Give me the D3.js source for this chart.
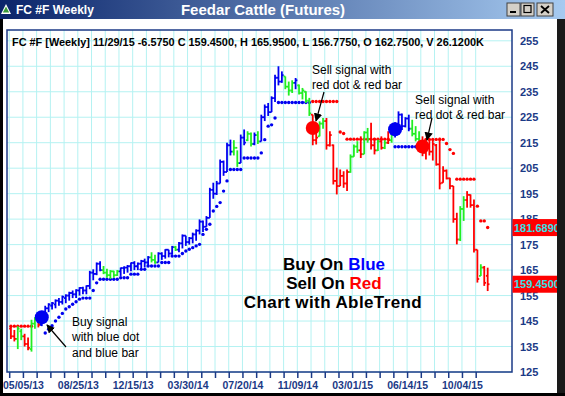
<!DOCTYPE html>
<html><head><meta charset="utf-8">
<script src="https://cdn.jsdelivr.net/npm/d3@7"></script>
<style>
html,body{margin:0;padding:0;background:#fff;overflow:hidden;}
svg{display:block;font-family:Arial,"Liberation Sans",sans-serif;}
</style></head><body>
<svg id="chart" width="565" height="396"></svg>
<script>
// Weekly OHLC bars, Feeder Cattle futures (one entry per bar)
const highs = [143,141.5,143,142,140,138.5,145.5,146.5,146,148,
151,152,152.5,153.5,154,155,155.5,156.5,157,157.5,
158.3,158.5,159,164.7,165.3,168,168.5,166.6,165.5,165,
164.7,165,166,166.5,167,168,168.5,168,169,169.5,
170.5,172,171,172,172,173.2,173,174.5,174.5,176,
179,178.5,178,179.7,181,184.9,184.5,186.2,197.3,199.3,
200,208.4,208,215,216.2,216,212,218.2,220.2,219.5,
219,219,219.5,226,230,230.6,233.2,241.7,245,243,
241,239,239.5,240.4,237.8,236.5,235.2,232.6,226,219.5,
223.4,224.7,224.7,219.5,214.3,205.2,204.5,203.8,204.5,210.4,
214.3,215.6,217.5,219.5,220.8,222.8,216.9,216.2,217.5,216,
219.5,220.5,223,227.3,226.5,225,226,224,221.5,219.5,
217.5,215.6,216.5,216,214.5,217,205.8,204.5,201.2,198,
187.5,190.1,194,196,194.7,192.7,173,167.3,166.6,165.95];
const lows = [138,137,134,137.5,135,133.5,133,142,142.5,143,
146,148.5,149.5,150,151,151.5,152,153,154,154,
155,155.5,155.5,157.5,161,163,164.5,163.4,162,161.5,
162,162.7,162.7,163.5,164,164.5,165,165,165.5,166,
166.5,168,167.5,168,169,169.5,170,171,172.5,172,
173.5,174.5,175,175.5,176.5,179,180,182,185.5,193,
194.5,199,202,203.5,210,210,205.5,207,214,215.6,
213.5,214,214.5,215.5,223.5,225.5,227,231,237.5,238.5,
236,233.5,234.5,236,233.9,232,230.6,225.5,214,214.3,
217.5,220.5,212.3,213.5,198.6,194.7,198,197.3,196,203.2,
209.5,211,209,210.5,215,212.3,210.4,211.7,212.3,212.5,
214.5,215,217,219,220,221,219.5,217.5,215.5,213.6,
209.7,208.4,210,208,206,196.7,199.3,200.6,196.7,183.6,
175.1,176.4,184.3,189.5,189.5,171.9,160.1,162.7,158.8,156.775];
const opens = [142,139,138,141,139,136,134,144,145.5,143.5,
147,150,151,151.5,153,152.5,154,155,156,155.5,
157,158,157,158.8,164,163.5,167.5,165,164,163,
164.5,163,164.5,165.8,166,166.5,167.8,166.5,167.5,168.5,
168,170,169,168,171.5,170.5,173,171.5,174,173,
175.5,178.5,176,177.5,179,180.5,184,182,185.5,196.5,
195,199,207.5,203.5,214,211.5,213,207,217,216,
218.5,214.5,218,215.5,225,229,227,232.5,240.5,239,
241,237,235.5,238.5,237.5,234.5,235,231.5,226,216,
217.5,222.5,223.5,214,214,200,198,202,199,203.5,
209.5,213.5,212,210.5,219,216.5,214,212,215.5,213,
215,216,219.5,222,226,221.5,224.5,220.5,218.5,216.5,
214.5,211,213.5,211.5,214,206.5,199.3,204,201,198,
185,177,189,192.5,194.5,190.5,173,162.7,166,162.75];
const closes = [139,138,142,139,136,134.5,144,145.5,143.5,147,
150,151.5,152,153,152.5,154.5,155,156,155.5,157,
158,157,158.8,164,163.5,167.5,165,164,163,164.5,
163,164.5,165.8,166,166.5,167.8,166.5,167.5,168.5,168,
170,169,168,171.5,170.5,173,171.5,174,173,175.5,
178.5,176,177.5,179,180.5,184,182,185.5,196.5,195,
199,207.5,203.5,214,211.5,213,207,217,215,218.5,
214.5,218,215.5,225,229,227,232.5,240.5,239,241.5,
237,235.5,238.5,239.5,234.5,235.5,231.5,226.5,216,217,
222.5,223.5,214,218,200,198,202,199,203.5,209.5,
213.5,212,210.5,219,216.5,214,212,215.5,213,215,
216,219.5,222,226,221.5,224.5,220.5,218.5,216.5,214.5,
211,213.5,211.5,214.5,206.5,199,204,201,198,185,
177,189,192.5,194.5,190.5,173,161.5,166,160,159.45];
// trend colour of each bar: b = up (blue), g = neutral (green), r = down (red)
const trend = ("rrggrrggrb" + "bbbbbbbbbb" + "bbbbbbbggg" + "ggbbbbbbbb" +
  "bggbbbbbgb" + "bbbbbbbbbb" + "bbbbbggbbg" + "gbgbbbbbbb" +
  "gggbggggrr" + "ggrrrrrrrg" + "ggrggrrgrg" + "rgbbbbbggg" +
  "rrrrrrrrrr" + "rggrrrrgrr").split("");

// AbleTrend stop levels (null = no stop drawn) and their side
const stopLevels = [143,143,143,143,143,143,143,null,null,null,
140.3,141.8,143.2,145,146.5,148,149.7,150.6,151.6,152.6,
153.6,154,154,154,157,160,161.4,161.4,161.4,161.4,
161.4,161.4,162,162,162,163.4,163.4,163.4,165.3,165.3,
166.6,166.6,166.6,166.6,168,168,168,170.5,170.5,170.5,
171.5,172.5,173.2,173.8,174.5,175.1,179,181,183,188.2,
190,191.5,196,200,204.5,204.5,204.5,204.5,209,209,
209,209,209,211,216.2,221.5,222,224.7,230.8,230.8,
230.8,230.8,230.8,230.8,230.8,230.8,230.8,230.8,231.2,231.2,
231.2,231.2,231.2,231.2,231.2,231.2,219.2,218.6,216.4,216.4,
216.4,216.4,216.4,216.4,216.4,216.4,216.4,216.4,216.4,216.4,
216.4,null,213.4,213.4,213.4,213.4,213.4,213.4,213.4,null,
null,216.3,216.3,216.3,216.3,216.3,216.3,214.7,212.3,210.8,
200.7,200.7,200.7,200.7,200.7,200.7,190.1,184.3,184.3,181.689];
const stopSide = ("rrrrrrrnnn" + "bbbbbbbbbb" + "bbbbbbbbbb" + "bbbbbbbbbb" +
  "bbbbbbbbbb" + "bbbbbbbbbb" + "bbbbbbbbbb" + "bbbbbbbbbb" +
  "bbbbbbbbrr" + "rrrrrrrrrr" + "rrrrrrrrrr" + "rnbbbbbbbn" +
  "nrrrrrrrrr" + "rrrrrrrrrr").split("");

// signal dots: bar index, price, side
const signalIdx = [9, 88, 112, 120];
const signalPrice = [146.5, 220.8, 220.3, 213.5];
const signalSide = ["b", "r", "b", "r"];

// x-axis labels every 16 bars
const xLabelIdx = [4, 20, 36, 52, 68, 84, 100, 116, 132];
const xLabels = ["05/05/13","08/25/13","12/15/13","03/30/14","07/20/14","11/09/14","03/01/15","06/14/15","10/04/15"];
const yTicks = [125,135,145,155,165,175,185,195,205,215,225,235,245,255];

// last-value price flags on the right axis
const flagValues = [181.689, 159.45];
const flagTexts = ["181.6890", "159.4500"];

const headerText = "FC #F [Weekly] 11/29/15  -6.5750 C 159.4500, H 165.9500, L 156.7750, O 162.7500, V 26.1200K";

const COLORS = {b: "#0000f0", g: "#22ee22", r: "#ff0000"};
const NAVY = "#1b3a86";

const svg = d3.select("#chart");
const W = 565, H = 396;
const plot = {left: 7, right: 512, top: 30, bottom: 372};

const x = d3.scaleLinear().domain([0, 140]).range([9.2, 9.2 + 140 * 3.43]);
const y = d3.scaleLinear().domain([125, 255]).range([372, 40.8]);
const xc = i => x(i + 0.5);

// window background
svg.append("rect").attr("width", W).attr("height", H).attr("fill", "#fff");

// grid
const grid = svg.append("g");
grid.selectAll("line.h").data(yTicks).join("line")
  .attr("x1", plot.left).attr("x2", plot.right)
  .attr("y1", d => y(d)).attr("y2", d => y(d))
  .attr("stroke", "#b4f2f2").attr("stroke-width", 1);
const tickIdx = d3.range(0, 140, 4);
grid.selectAll("line.v").data(tickIdx).join("line")
  .attr("x1", d => x(d)).attr("x2", d => x(d))
  .attr("y1", plot.top).attr("y2", plot.bottom)
  .attr("stroke", "#b4f2f2").attr("stroke-width", 1);

// plot frame
svg.append("rect").attr("x", plot.left).attr("y", plot.top)
  .attr("width", plot.right - plot.left).attr("height", plot.bottom - plot.top)
  .attr("fill", "none").attr("stroke", NAVY).attr("stroke-width", 1.5);

// x axis ticks + labels
const xAxis = d3.axisBottom(x).tickValues(tickIdx)
  .tickFormat(d => { const k = xLabelIdx.indexOf(d); return k >= 0 ? xLabels[k] : ""; })
  .tickSize(6).tickPadding(4);
const gx = svg.append("g").attr("transform", `translate(0,${plot.bottom})`).call(xAxis);
gx.select(".domain").remove();
gx.selectAll(".tick line").attr("stroke", NAVY).attr("stroke-width", 1.5);
gx.selectAll(".tick text").attr("fill", NAVY).attr("font-weight", "bold")
  .attr("font-size", "10.5px").attr("font-family", "Arial, 'Liberation Sans', sans-serif");

// y axis labels
const yAxis = d3.axisRight(y).tickValues(yTicks).tickSize(0).tickPadding(0);
const gy = svg.append("g").attr("transform", `translate(520,0)`).call(yAxis);
gy.select(".domain").remove();
gy.selectAll(".tick text").attr("fill", NAVY).attr("font-weight", "bold")
  .attr("font-size", "11px").attr("font-family", "Arial, 'Liberation Sans', sans-serif");

// header line
svg.append("text").attr("x", 12).attr("y", 46).text(headerText)
  .attr("font-size", "10.9px").attr("font-weight", "bold").attr("fill", "#000");

// stop dots
const idx = d3.range(highs.length);
svg.append("g").selectAll("circle").data(idx.filter(i => stopLevels[i] !== null)).join("circle")
  .attr("cx", i => xc(i)).attr("cy", i => y(stopLevels[i])).attr("r", 1.7)
  .attr("fill", i => COLORS[stopSide[i]]);

// OHLC bars
const bars = svg.append("g").attr("stroke-width", 1.8);
idx.forEach(i => {
  const c = COLORS[trend[i]], cx = xc(i);
  bars.append("line").attr("x1", cx).attr("x2", cx).attr("y1", y(highs[i])).attr("y2", y(lows[i])).attr("stroke", c);
  bars.append("line").attr("x1", cx - 1.8).attr("x2", cx).attr("y1", y(opens[i])).attr("y2", y(opens[i])).attr("stroke", c);
  bars.append("line").attr("x1", cx).attr("x2", cx + 1.8).attr("y1", y(closes[i])).attr("y2", y(closes[i])).attr("stroke", c);
});

// signal dots
svg.append("g").selectAll("circle").data(signalIdx).join("circle")
  .attr("cx", (d) => xc(d)).attr("cy", (d, k) => y(signalPrice[k])).attr("r", 7)
  .attr("fill", (d, k) => COLORS[signalSide[k]]);

// annotations
const defs = svg.append("defs");
defs.append("marker").attr("id", "ah").attr("viewBox", "0 0 10 10").attr("refX", 9).attr("refY", 5)
  .attr("markerWidth", 7).attr("markerHeight", 7).attr("orient", "auto")
  .append("path").attr("d", "M0,0L10,5L0,10z").attr("fill", "#000");

const notes = [
  {x: 72, y: 326, lines: ["Buy signal", "with blue dot", "and blue bar"]},
  {x: 312, y: 74, lines: ["Sell signal with", "red dot & red bar"]},
  {x: 415, y: 104, lines: ["Sell signal with", "red dot & red bar"]}
];
notes.forEach(n => {
  n.lines.forEach((t, k) => svg.append("text").attr("x", n.x).attr("y", n.y + k * 15.3)
    .attr("font-size", "12px").attr("fill", "#000").text(t));
});
const arrows = [[66, 347, 47, 325], [324, 92, 316, 121], [432, 118, 427, 140]];
arrows.forEach(a => svg.append("line").attr("x1", a[0]).attr("y1", a[1]).attr("x2", a[2]).attr("y2", a[3])
  .attr("stroke", "#000").attr("stroke-width", 1.2).attr("marker-end", "url(#ah)"));

// slogan
const slogan = svg.append("g").attr("font-size", "17px").attr("font-weight", "bold").attr("text-anchor", "middle");
const s1 = slogan.append("text").attr("x", 334).attr("y", 270);
s1.append("tspan").text("Buy On ").attr("fill", "#000");
s1.append("tspan").text("Blue").attr("fill", "#0000ff");
const s2 = slogan.append("text").attr("x", 334).attr("y", 289);
s2.append("tspan").text("Sell On ").attr("fill", "#000");
s2.append("tspan").text("Red").attr("fill", "#ff0000");
slogan.append("text").attr("x", 333).attr("y", 308).text("Chart with AbleTrend").attr("fill", "#000")
  .attr("letter-spacing", "0.4px");

// price flags
flagValues.forEach((v, k) => {
  svg.append("rect").attr("x", 512.5).attr("y", y(v) - 8.5).attr("width", 50).attr("height", 17).attr("fill", "#ff0000");
  svg.append("text").attr("x", 514).attr("y", y(v) + 4).text(flagTexts[k])
    .attr("font-size", "11px").attr("font-weight", "bold").attr("fill", "#33e0e8");
});

// window frame
svg.append("rect").attr("x", 0).attr("y", 0).attr("width", 3).attr("height", H).attr("fill", "#000");
svg.append("rect").attr("x", 557).attr("y", 0).attr("width", 8).attr("height", H).attr("fill", "#1a1a1a");
svg.append("rect").attr("x", 0).attr("y", 393).attr("width", W).attr("height", 3).attr("fill", "#000");

// title bar
const grad = defs.append("linearGradient").attr("id", "tb");
grad.append("stop").attr("offset", "0%").attr("stop-color", "#0a246a");
grad.append("stop").attr("offset", "100%").attr("stop-color", "#a6caf0");
svg.append("rect").attr("x", 0).attr("y", 0).attr("width", W).attr("height", 19).attr("fill", "url(#tb)");
svg.append("path").attr("d", "M6,4L11,14L1,14z").attr("fill", "#fff");
svg.append("path").attr("d", "M6,6.5L9.2,12.6L2.8,12.6z").attr("fill", "#3a9a3a");
svg.append("text").attr("x", 16).attr("y", 14).text("FC #F Weekly").attr("font-size", "12px")
  .attr("font-weight", "bold").attr("fill", "#fff");
svg.append("text").attr("x", 263).attr("y", 15).attr("text-anchor", "middle").text("Feedar Cattle (Futures)")
  .attr("font-size", "15px").attr("font-weight", "bold").attr("fill", "#fff");
// caption buttons
[[507, "min"], [521, "max"], [537, "close"]].forEach(([bx, kind]) => {
  const w = kind === "close" ? 16 : 13;
  svg.append("rect").attr("x", bx).attr("y", 3).attr("width", w).attr("height", 13).attr("fill", "#d4d0c8")
    .attr("stroke", "#404040").attr("stroke-width", 1);
  if (kind === "min") svg.append("rect").attr("x", bx + 3).attr("y", 11).attr("width", 6).attr("height", 2).attr("fill", "#000");
  if (kind === "max") svg.append("rect").attr("x", bx + 3).attr("y", 5.5).attr("width", 7).attr("height", 7)
    .attr("fill", "none").attr("stroke", "#000").attr("stroke-width", 1.2);
  if (kind === "close") svg.append("path").attr("d", `M${bx + 4},6L${bx + 12},13M${bx + 12},6L${bx + 4},13`)
    .attr("stroke", "#000").attr("stroke-width", 1.8);
});
</script>
</body></html>
